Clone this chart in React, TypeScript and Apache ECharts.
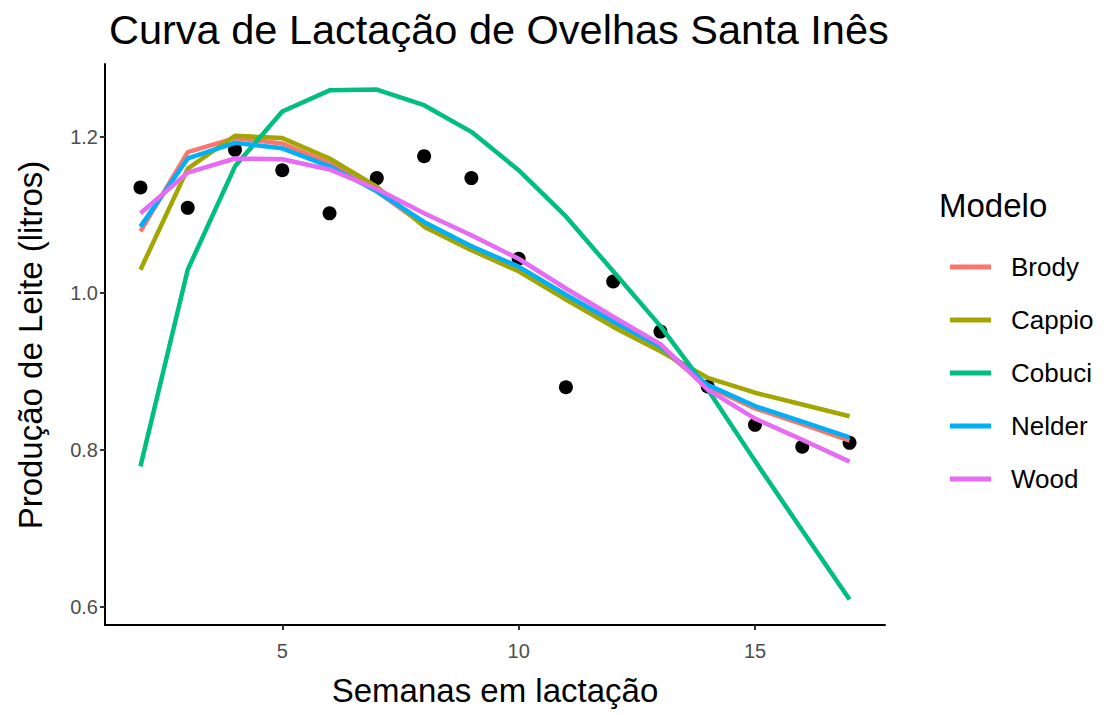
import React, { useEffect, useRef } from "react";
import * as echarts from "echarts";

const weeks = [2, 3, 4, 5, 6, 7, 8, 9, 10, 11, 12, 13, 14, 15, 16, 17];
const observed = [1.135, 1.109, 1.183, 1.157, 1.102, 1.147, 1.175, 1.147, 1.044, 0.880, 1.015, 0.951, 0.881, 0.832, 0.804, 0.809];
const brody = [1.079, 1.180, 1.198, 1.191, 1.166, 1.130, 1.087, 1.060, 1.031, 0.995, 0.961, 0.930, 0.881, 0.853, 0.833, 0.812];
const cappio = [1.030, 1.159, 1.201, 1.198, 1.172, 1.136, 1.085, 1.055, 1.028, 0.992, 0.957, 0.926, 0.892, 0.873, 0.858, 0.843];
const cobuci = [0.779, 1.030, 1.162, 1.232, 1.259, 1.260, 1.240, 1.206, 1.157, 1.098, 1.028, 0.958, 0.877, 0.786, 0.697, 0.609];
const nelder = [1.085, 1.172, 1.192, 1.185, 1.162, 1.130, 1.091, 1.060, 1.034, 0.998, 0.964, 0.932, 0.883, 0.856, 0.836, 0.816];
const wood = [1.102, 1.154, 1.172, 1.171, 1.158, 1.133, 1.102, 1.074, 1.044, 1.006, 0.970, 0.935, 0.877, 0.840, 0.813, 0.785];

const modelNames = ["Brody", "Cappio", "Cobuci", "Nelder", "Wood"];
const modelValues = [brody, cappio, cobuci, nelder, wood];
const modelColors = ["#F8766D", "#A3A500", "#00BF7D", "#00B0F6", "#E76BF3"];
const xTicks = [5, 10, 15];
const yTicks = [0.6, 0.8, 1.0, 1.2];

const FONT = "'Liberation Sans', Arial, sans-serif";

export default function App() {
  const ref = useRef<HTMLDivElement>(null);
  useEffect(() => {
    if (!ref.current) return;
    const chart = echarts.init(ref.current, undefined, { renderer: "svg" });
    const lineSeries = modelNames.map((name, i) => ({
      name,
      type: "line",
      data: weeks.map((w, j) => [w, modelValues[i][j]]),
      showSymbol: false,
      symbol: "none",
      lineStyle: { color: modelColors[i], width: 4.5 },
      itemStyle: { color: modelColors[i] },
      z: 3 + i,
    }));
    chart.setOption({
      animation: false,
      backgroundColor: "#ffffff",
      title: {
        text: "Curva de Lactação de Ovelhas Santa Inês",
        left: 104,
        top: 3,
        textStyle: { fontFamily: FONT, fontSize: 41.5, fontWeight: "normal", color: "#000000" },
      },
      grid: { left: 105, right: 219, top: 64, bottom: 90, containLabel: false },
      xAxis: {
        type: "value",
        min: 1.25,
        max: 17.75,
        splitLine: { show: false },
        axisLine: { show: true, onZero: false, lineStyle: { color: "#000000", width: 2 } },
        axisTick: { show: true, customValues: xTicks, length: 5, lineStyle: { color: "#333333", width: 2 } },
        axisLabel: {
          customValues: xTicks,
          margin: 16,
          fontFamily: FONT,
          fontSize: 20,
          color: "#4D4D4D",
          formatter: (v: number) => String(v),
        },
      },
      yAxis: {
        type: "value",
        min: 0.5765,
        max: 1.2926,
        splitLine: { show: false },
        axisLine: { show: true, onZero: false, lineStyle: { color: "#000000", width: 2 } },
        axisTick: { show: true, customValues: yTicks, length: 5, lineStyle: { color: "#333333", width: 2 } },
        axisLabel: {
          customValues: yTicks,
          margin: 7,
          fontFamily: FONT,
          fontSize: 20,
          color: "#4D4D4D",
          formatter: (v: number) => v.toFixed(1),
        },
      },
      legend: {
        data: modelNames,
        orient: "vertical",
        left: 945,
        top: 248,
        itemWidth: 41,
        itemHeight: 5,
        itemGap: 25,
        icon: "rect",
        textStyle: { fontFamily: FONT, fontSize: 26, color: "#000000", padding: [0, 0, 0, 15], lineHeight: 28 },
      },
      graphic: [
        {
          type: "text",
          left: 939,
          top: 189,
          style: { text: "Modelo", fontFamily: FONT, fontSize: 33, fill: "#000000" },
        },
        {
          type: "text",
          x: 30,
          y: 345,
          rotation: Math.PI / 2,
          style: {
            text: "Produção de Leite (litros)",
            fontFamily: FONT,
            fontSize: 33,
            fill: "#000000",
            align: "center",
            verticalAlign: "middle",
          },
        },
        {
          type: "text",
          x: 495,
          y: 690,
          style: {
            text: "Semanas em lactação",
            fontFamily: FONT,
            fontSize: 33,
            fill: "#000000",
            align: "center",
            verticalAlign: "middle",
          },
        },
      ],
      series: [
        {
          name: "Observado",
          type: "scatter",
          data: weeks.map((w, j) => [w, observed[j]]),
          symbolSize: 14,
          itemStyle: { color: "#000000", opacity: 1 },
          z: 2,
        },
        ...lineSeries,
      ],
    });
    return () => chart.dispose();
  }, []);
  return <div ref={ref} style={{ width: 1104, height: 715, position: "absolute", left: 0, top: 0 }} />;
}
